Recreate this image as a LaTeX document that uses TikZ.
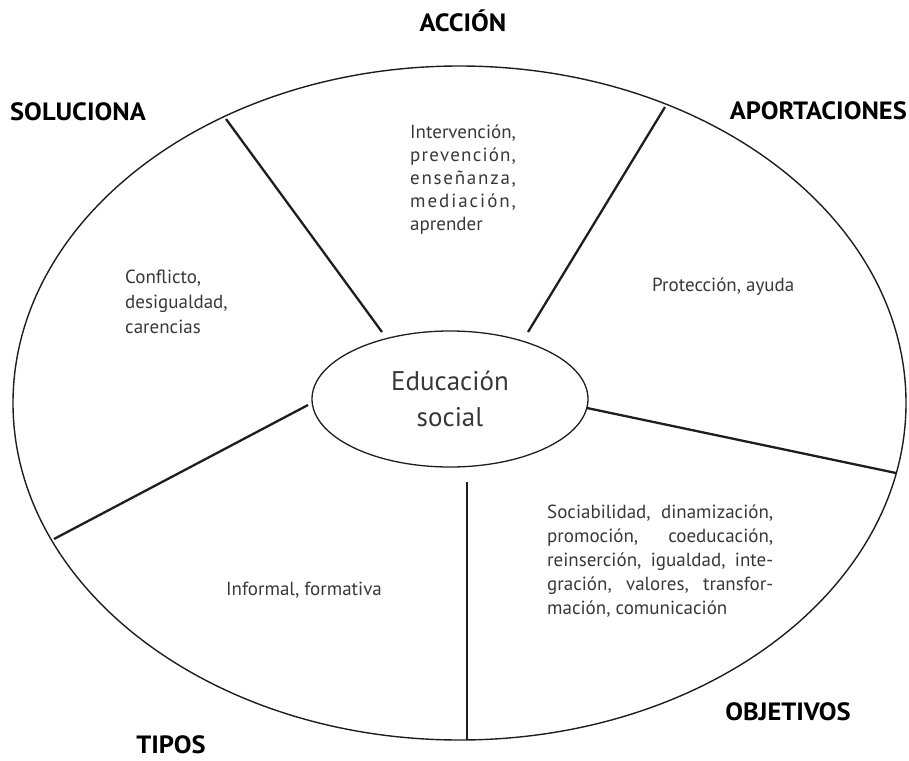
\documentclass[tikz,border=0pt]{standalone}
\usepackage{fontspec}
\setmainfont{PT Sans}
\newfontfamily\headfont[FakeStretch=1.06]{PT Sans}
\usetikzlibrary{shapes.geometric}
\newlength\accwd
\definecolor{ink}{HTML}{1E1E1E}
\definecolor{txt}{HTML}{383838}
\begin{document}
\begin{tikzpicture}[x=1pt,y=-1pt,
  heading/.style={font=\headfont\fontsize{25}{28}\selectfont\bfseries, text=black, inner sep=0, text depth=0pt},
  body/.style={font=\fontsize{19}{24}\selectfont, text=txt, inner sep=0},
  spoke/.style={draw=ink, line width=2.3pt},
  rim/.style={draw=ink, line width=1.4pt, ellipse, inner sep=0}]
\useasboundingbox (0,0) rectangle (909,760);

% ellipses
\node[rim, minimum width=893pt, minimum height=674pt] (outer) at (459.5,403) {};
\node[rim, line width=1.3pt, minimum width=276pt, minimum height=136pt,
      align=center, font=\fontsize{27}{36}\selectfont, text=txt] (core) at (450,399) {Educación\\social};

% spoke end points
\coordinate (s1a) at (226,119); \coordinate (s1b) at (382,332);
\coordinate (s2a) at (665,107); \coordinate (s2b) at (528,332);
\coordinate (s3a) at (896,473); \coordinate (s3b) at (587,408);
\coordinate (s4a) at (467,740); \coordinate (s4b) at (467,482);
\coordinate (s5a) at (54,539);  \coordinate (s5b) at (308,405);
\draw[spoke] (s1b) -- (s1a);
\draw[spoke] (s2b) -- (s2a);
\draw[spoke] (s3b) -- (s3a);
\draw[spoke] (s4b) -- (s4a);
\draw[spoke] (s5b) -- (s5a);

% headings
\node[heading, anchor=base] (hacc) at (463,32) {ACCIÓN};
\node[heading, anchor=base west] (hsol) at (10,120) {SOLUCIONA};
\node[heading, anchor=base east] (hapo) at (907,119) {APORTACIONES};
\node[heading, anchor=base] (hobj) at (788,720) {OBJETIVOS};
\node[heading, anchor=base] (htip) at (171,753) {TIPOS};

% texts
\node[body, anchor=base west] (tacc) at (410,138) {\parbox[t]{150pt}{\baselineskip=23pt\raggedright
  \settowidth\accwd{Intervención,}%
  Intervención,\\
  \makebox[\accwd][s]{p\hfil r\hfil e\hfil v\hfil e\hfil n\hfil c\hfil i\hfil ó\hfil n\hfil ,}\\
  \makebox[\accwd][s]{e\hfil n\hfil s\hfil e\hfil ñ\hfil a\hfil n\hfil z\hfil a\hfil ,}\\
  \makebox[\accwd][s]{m\hfil e\hfil d\hfil i\hfil a\hfil c\hfil i\hfil ó\hfil n\hfil ,}\\
  aprender}};
\node[body, anchor=base west] (tsol) at (125,283) {\parbox[t]{150pt}{\baselineskip=25pt\raggedright
  Conflicto,\\desigualdad,\\carencias}};
\node[body, anchor=base west] (tapo) at (652,291) {Protección, ayuda};
\node[body, anchor=base] (ttip) at (304,595) {Informal, formativa};
\node[body, anchor=base west] (tobj) at (547,518) {\parbox[t]{226pt}{\baselineskip=24pt\parindent=0pt
  Sociabilidad, dinamización,\linebreak
  promoción, coeducación,\linebreak
  reinserción, igualdad, inte-\linebreak
  gración, valores, transfor-\linebreak
  mación, comunicación}};
\end{tikzpicture}
\end{document}
